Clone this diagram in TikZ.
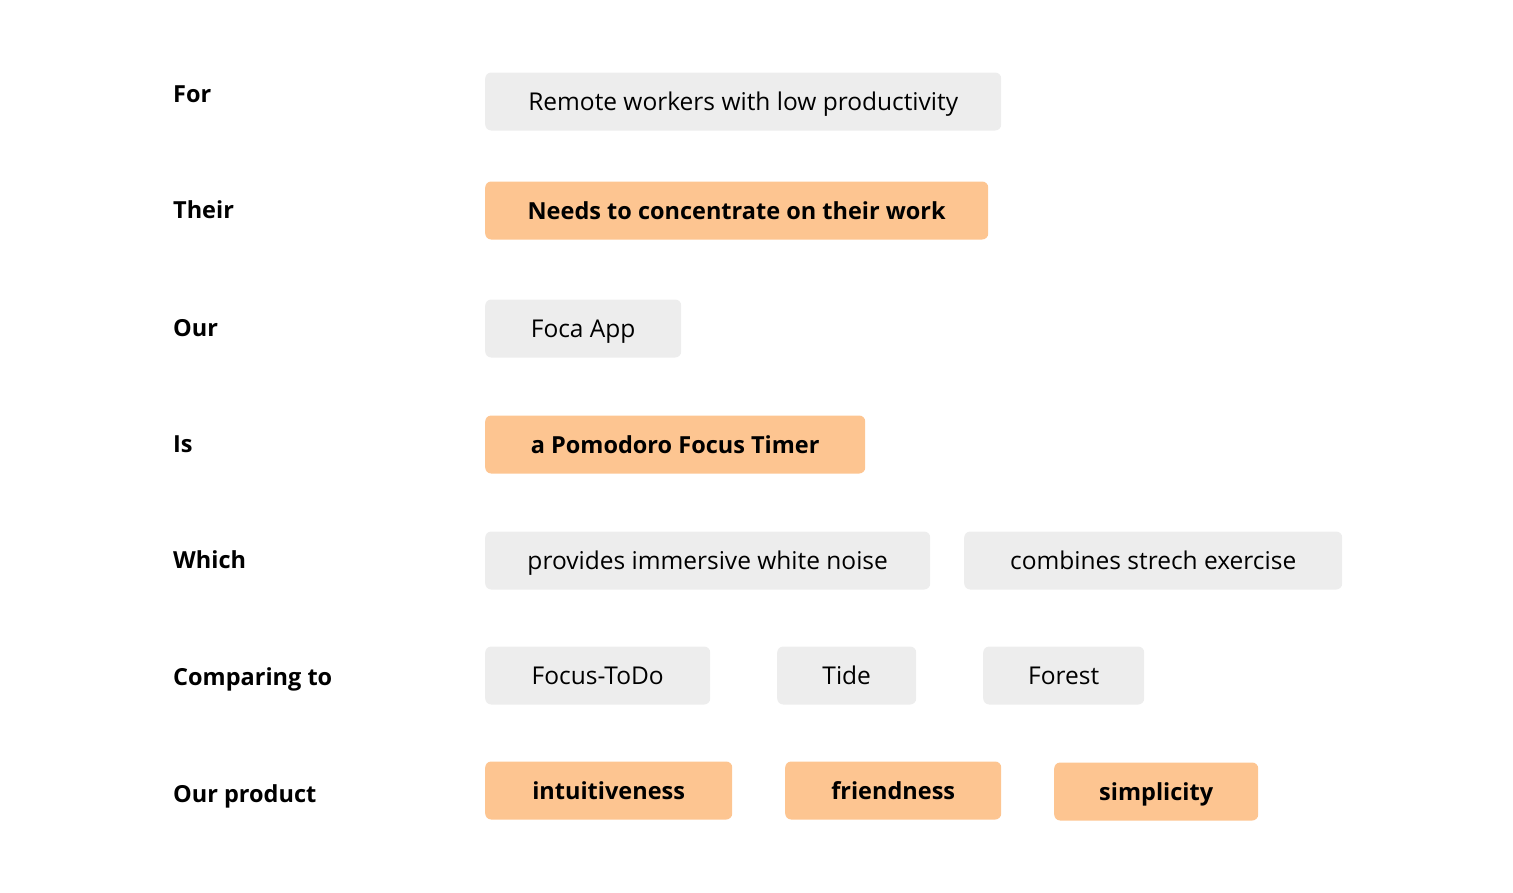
\documentclass[tikz,border=0pt]{standalone}
\usepackage{fontspec}
\setmainfont{Open Sans}
\usetikzlibrary{positioning}
\definecolor{tagGrey}{HTML}{EDEDED}
\definecolor{tagOrange}{HTML}{FDC591}
\tikzset{
  rowLabel/.style = {anchor = west, inner sep = 0pt, text height = 17pt, text depth = 0pt,
    font = \fontsize{23.5}{28}\selectfont\bfseries},
  tag/.style = {anchor = west, inner sep = 0pt, minimum height = 58pt, rounded corners = 6pt,
    fill = tagGrey, text height = 17pt, text depth = 0pt, font = \fontsize{24.5}{28}\selectfont},
  hiTag/.style = {tag, fill = tagOrange, font = \fontsize{23.5}{28}\selectfont\bfseries}
}
\newcommand{\tikzPlaceTag}[4]{\node[#1, minimum width = #2] #3 {#4}}

\begin{document}
\begin{tikzpicture}[x = 1pt, y = -1pt]
  \useasboundingbox (0,0) rectangle (1513,892);
  % row titles
  \node[rowLabel] (forLabel) at (173,93.5) {For};
  \node[rowLabel] (theirLabel) at (173,209.5) {Their};
  \node[rowLabel] (ourLabel) at (173,327.5) {Our};
  \node[rowLabel] (isLabel) at (173,443.5) {Is};
  \node[rowLabel] (whichLabel) at (173,559.5) {Which};
  \node[rowLabel] (comparingLabel) at (173,676.5) {Comparing to};
  \node[rowLabel] (productLabel) at (173,793.5) {Our product};
  % tags
  \tikzPlaceTag{tag}{516pt}{(forTag) at (485,101.5)}{Remote workers with low productivity};
  \tikzPlaceTag{hiTag}{503pt}{(needTag) at (485,210.5)}{Needs to concentrate on their work};
  \tikzPlaceTag{tag}{196pt}{(appTag) at (485,328.5)}{Foca App};
  \tikzPlaceTag{hiTag}{380pt}{(timerTag) at (485,444.5)}{a Pomodoro Focus Timer};
  \tikzPlaceTag{tag}{445pt}{(noiseTag) at (485,560.5)}{provides immersive white noise};
  \tikzPlaceTag{tag}{378pt}{(stretchTag) at (964,560.5)}{combines strech exercise};
  \tikzPlaceTag{tag}{225pt}{(todoTag) at (485,675.5)}{Focus-ToDo};
  \tikzPlaceTag{tag}{139pt}{(tideTag) at (777,675.5)}{Tide};
  \tikzPlaceTag{tag}{161pt}{(forestTag) at (983,675.5)}{Forest};
  \tikzPlaceTag{hiTag}{247pt}{(intuitiveTag) at (485,790.5)}{intuitiveness};
  \tikzPlaceTag{hiTag}{216pt}{(friendTag) at (785,790.5)}{friendness};
  \tikzPlaceTag{hiTag}{204pt}{(simpleTag) at (1054,791.5)}{simplicity};
\end{tikzpicture}
\end{document}
